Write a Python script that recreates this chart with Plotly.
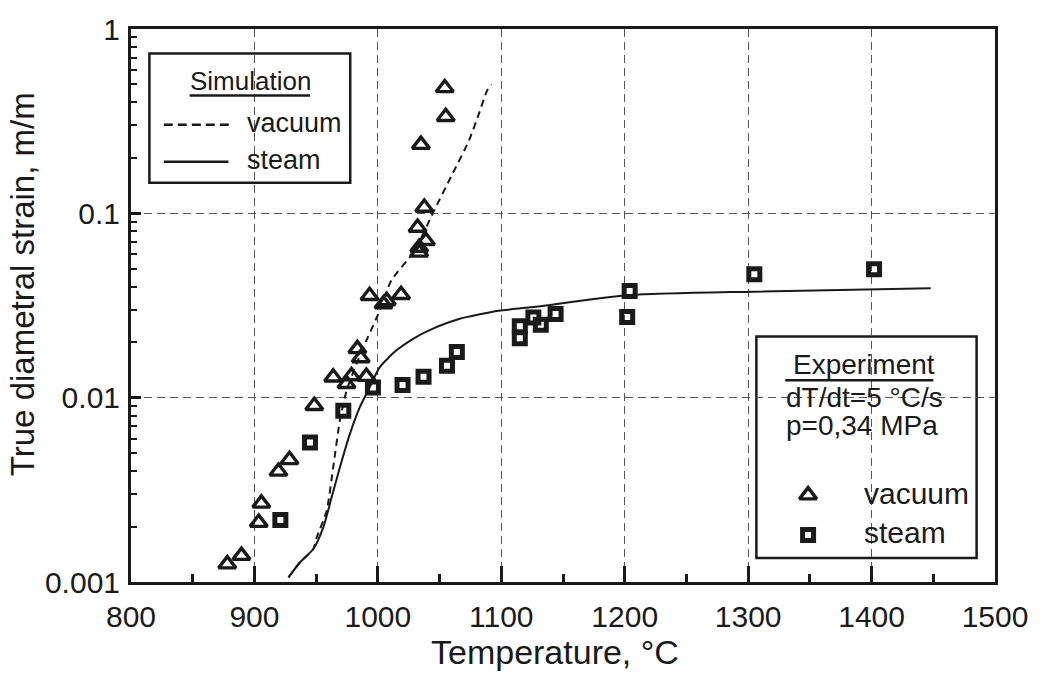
import plotly.graph_objects as go

# ---------------- data ----------------
# Experiment, vacuum (triangles)
vac_T = [878, 889.5, 903.5, 905.6, 919.5, 928.4, 948.5, 963.8, 974.6, 978.6,
         990.7, 983.4, 986.1, 993.3, 1004.6, 1007.2, 1018.8, 1032.2, 1033.5,
         1033.5, 1038.9, 1037.6, 1034.9, 1055.0, 1054.2]
vac_eps = [0.00125, 0.00139, 0.00210, 0.00267, 0.00398, 0.00460, 0.00904, 0.0129,
           0.0119, 0.0131, 0.0130, 0.0184, 0.0164, 0.0357, 0.0322, 0.0335, 0.0362,
           0.0838, 0.0653, 0.0614, 0.0710, 0.1076, 0.236, 0.334, 0.479]

# Experiment, steam (squares)
stm_T = [921, 945, 972, 996, 1020, 1037, 1056, 1064, 1115, 1115, 1126, 1132,
         1144, 1202, 1204, 1305, 1402]
stm_eps = [0.00217, 0.00571, 0.00849, 0.01136, 0.0117, 0.0130, 0.0149, 0.0177,
           0.0210, 0.0244, 0.0272, 0.0249, 0.0284, 0.0274, 0.0379, 0.0467, 0.0498]

# Simulation, vacuum (dashed)
sim_vac_T = [927.6, 937, 947.7, 950.4, 958.5, 963.8, 969.2, 974.6, 982.6, 990.7,
             1001.4, 1010.8, 1030, 1044.2, 1060.3, 1073.8, 1081.8, 1088.5, 1092.0]
sim_vac_eps = [0.00106, 0.00128, 0.00151, 0.00174, 0.00243, 0.00418, 0.0075, 0.0109,
               0.0152, 0.0204, 0.0296, 0.0431, 0.063, 0.0991, 0.163, 0.248, 0.346,
               0.463, 0.50]

# Simulation, steam (solid)
sim_stm_T = [927.6, 937, 947.7, 955.8, 962.5, 969.2, 977.3, 985.3, 993.3, 1001.4,
             1014.8, 1028.2, 1044.2, 1065.7, 1097.9, 1123.6, 1204.3, 1304.5, 1447.9]
sim_stm_eps = [0.00106, 0.00128, 0.00151, 0.00198, 0.00287, 0.00418, 0.00634, 0.00885,
               0.01135, 0.0146, 0.0180, 0.0208, 0.0236, 0.0267, 0.0296, 0.0309,
               0.0360, 0.0376, 0.0392]

x_ticks = [800, 900, 1000, 1100, 1200, 1300, 1400, 1500]
y_tickvals = [0.001, 0.01, 0.1, 1]
y_ticktext = ["0.001", "0.01", "0.1", "1"]

# ---------------- layout geometry ----------------
W, H = 1040, 673
L, R, T, B = 131, 1000, 28, 582
FONT = "Liberation Sans, Arial, sans-serif"
INK = "#1a1a1a"


def px(xp):
    return (xp - L) / (R - L)


def py(yp):
    return (B - yp) / (B - T)


fig = go.Figure()

fig.add_trace(go.Scatter(x=sim_vac_T, y=sim_vac_eps, mode="lines",
                         line=dict(color=INK, width=2, dash="7px,5px", shape="spline", smoothing=0.6),
                         showlegend=False, hoverinfo="skip"))
fig.add_trace(go.Scatter(x=sim_stm_T, y=sim_stm_eps, mode="lines",
                         line=dict(color=INK, width=2, shape="spline", smoothing=0.6),
                         showlegend=False, hoverinfo="skip"))
fig.add_trace(go.Scatter(x=vac_T, y=vac_eps, mode="markers",
                         marker=dict(symbol="triangle-up-open", size=15, color=INK,
                                     line=dict(width=3.4, color=INK)),
                         showlegend=False))
fig.add_trace(go.Scatter(x=stm_T, y=stm_eps, mode="markers",
                         marker=dict(symbol="square-open", size=11, color=INK,
                                     line=dict(width=5, color=INK)),
                         showlegend=False))

# legend sample markers on an invisible overlay axis (0..1 = plot area)
fig.add_trace(go.Scatter(x=[px(812)], y=[py(495)], mode="markers", xaxis="x2", yaxis="y2",
                         marker=dict(symbol="triangle-up-open", size=15, color=INK,
                                     line=dict(width=3.4, color=INK)),
                         showlegend=False, hoverinfo="skip"))
fig.add_trace(go.Scatter(x=[px(812)], y=[py(535)], mode="markers", xaxis="x2", yaxis="y2",
                         marker=dict(symbol="square-open", size=11, color=INK,
                                     line=dict(width=5, color=INK)),
                         showlegend=False, hoverinfo="skip"))

shapes = []
# Simulation box
shapes.append(dict(type="rect", xref="paper", yref="paper", x0=px(149.5), x1=px(351.5),
                   y0=py(182), y1=py(52.5), line=dict(color=INK, width=2.5),
                   fillcolor="white", layer="below"))
shapes.append(dict(type="line", xref="paper", yref="paper", x0=px(190), x1=px(311),
                   y0=py(94.5), y1=py(94.5), line=dict(color=INK, width=2.5), layer="above"))
shapes.append(dict(type="line", xref="paper", yref="paper", x0=px(164), x1=px(230),
                   y0=py(124), y1=py(124), line=dict(color=INK, width=2.5, dash="9px,5px"),
                   layer="above"))
shapes.append(dict(type="line", xref="paper", yref="paper", x0=px(164), x1=px(229),
                   y0=py(161), y1=py(161), line=dict(color=INK, width=2.5), layer="above"))
# Experiment box (white fill hides the grid behind it)
shapes.append(dict(type="rect", xref="paper", yref="paper", x0=px(760), x1=px(981.5),
                   y0=py(558), y1=py(336), line=dict(color=INK, width=2.5),
                   fillcolor="white", layer="between"))
shapes.append(dict(type="line", xref="paper", yref="paper", x0=px(789), x1=px(938),
                   y0=py(380), y1=py(380), line=dict(color=INK, width=2.5), layer="above"))

ann = []


def add_text(text, xpix, ypix, size, xanchor="left"):
    ann.append(dict(text=text, xref="paper", yref="paper", x=px(xpix), y=py(ypix),
                    xanchor=xanchor, yanchor="middle", showarrow=False,
                    font=dict(family=FONT, size=size, color=INK)))


add_text("Simulation", 250.7, 80, 26, "center")
add_text("vacuum", 246, 122, 27)
add_text("steam", 246, 159, 27)
add_text("Experiment", 868, 364, 28, "center")
add_text("dT/dt=5 °C/s", 788, 397, 28)
add_text("p=0,34 MPa", 788, 425, 28)
add_text("vacuum", 866, 493, 30)
add_text("steam", 866, 532, 30)

# axis titles
ann.append(dict(text="Temperature, °C", xref="paper", yref="paper", x=px(557), y=py(652),
                xanchor="center", yanchor="middle", showarrow=False,
                font=dict(family=FONT, size=34, color=INK)))
ann.append(dict(text="True diametral strain, m/m", xref="paper", yref="paper", x=px(22),
                y=py(284), xanchor="center", yanchor="middle", textangle=-90, showarrow=False,
                font=dict(family=FONT, size=33, color=INK)))

fig.update_layout(
    width=W, height=H,
    margin=dict(l=L, r=W - R, t=T, b=H - B, pad=0),
    paper_bgcolor="white", plot_bgcolor="white",
    font=dict(family=FONT, color=INK),
    shapes=shapes, annotations=ann,
    xaxis=dict(range=[800, 1500], tickvals=x_ticks, ticks="inside", ticklen=16, tickwidth=2.5,
               tickcolor=INK, showline=True, linewidth=3, linecolor=INK, mirror=True,
               showgrid=True, gridcolor="#555", gridwidth=1, griddash="8px,5px",
               zeroline=False, tickfont=dict(family=FONT, size=30, color=INK),
               ticklabelstandoff=6,
               minor=dict(dtick=50, ticks="inside", ticklen=8, tickwidth=2.5, tickcolor=INK,
                          showgrid=False)),
    yaxis=dict(type="log", range=[-3, 0], tickvals=y_tickvals, ticktext=y_ticktext,
               ticks="inside", ticklen=10, tickwidth=2.5, tickcolor=INK,
               showline=True, linewidth=3, linecolor=INK, mirror=True,
               showgrid=True, gridcolor="#555", gridwidth=1, griddash="8px,5px",
               zeroline=False, tickfont=dict(family=FONT, size=30, color=INK),
               ticklabelstandoff=2,
               minor=dict(dtick="D1", ticks="inside", ticklen=6, tickwidth=2, tickcolor=INK,
                          showgrid=False)),
    xaxis2=dict(range=[0, 1], overlaying="x", visible=False, fixedrange=True),
    yaxis2=dict(range=[0, 1], overlaying="y", visible=False, fixedrange=True),
    showlegend=False,
)

fig.write_html("out.html")
